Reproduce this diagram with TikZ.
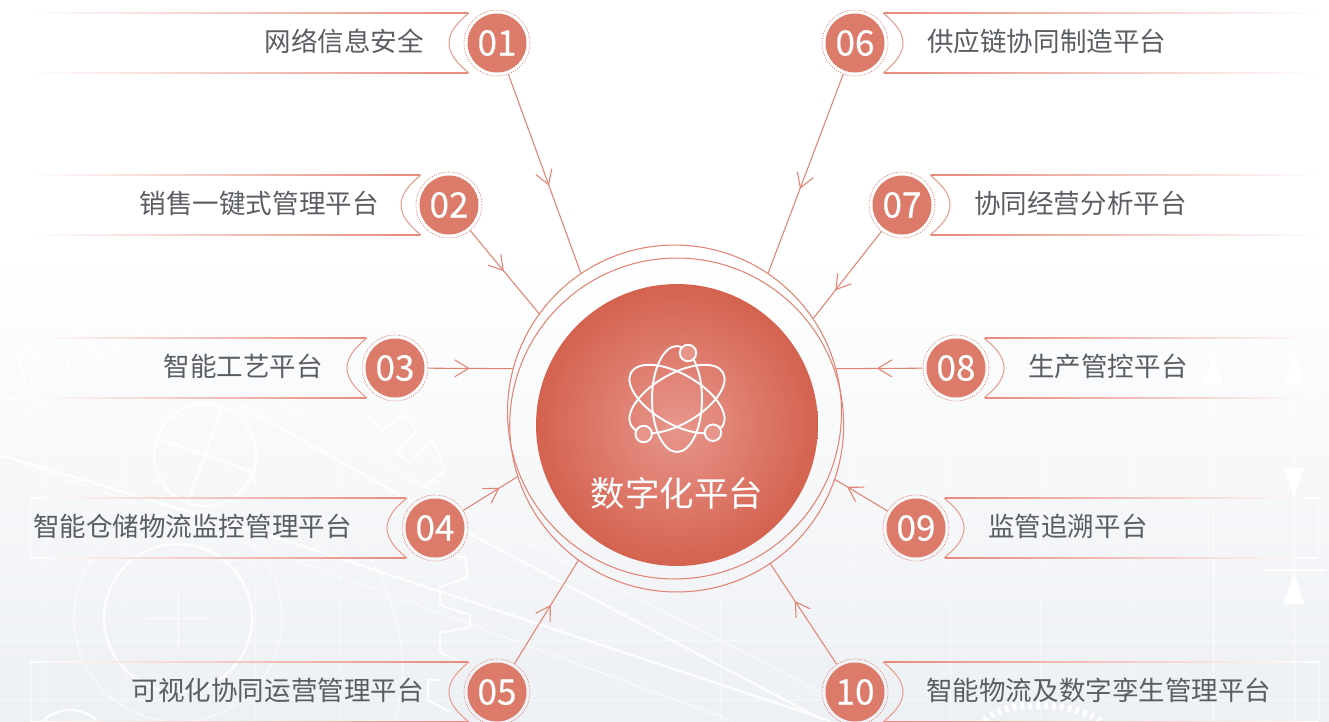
\documentclass[tikz,border=0pt]{standalone}
\usepackage{fontspec}
\setmainfont{Noto Sans CJK SC}
\newfontfamily\numfont[FakeBold=0.3]{Noto Sans CJK SC}
\usepackage{xcolor}
\usetikzlibrary{arrows.meta,decorations.markings}
\definecolor{numred}{HTML}{DD7B6B}
\definecolor{linered}{HTML}{E28374}
\definecolor{bandred}{HTML}{E68A7B}
\definecolor{hubmid}{HTML}{E8968C}
\definecolor{hubrim}{HTML}{D4624F}
\definecolor{labelgrey}{HTML}{5A5E62}
\definecolor{bgbottom}{HTML}{EDF0F4}

\begin{document}
\begin{tikzpicture}[
    x=0.02cm, y=-0.02cm,
    numring/.style={circle, draw=linered, line width=0.4pt, dash pattern=on 0.6pt off 0.8pt, minimum size=1.32cm, inner sep=0pt},
    numdisc/.style={circle, fill=numred, text=white, minimum size=1.18cm, inner sep=0pt, font=\numfont\fontsize{20pt}{24pt}\selectfont},
    labeltext/.style={text=labelgrey, inner sep=0pt, font=\fontsize{15.1pt}{18pt}\selectfont},
    ringline/.style={circle, draw=linered, line width=0.6pt, minimum size=6.68cm, inner sep=0pt},
    hubdisc/.style={circle, inner color=hubmid, outer color=hubrim, minimum size=5.64cm, inner sep=0pt},
    conn/.style={draw=linered, line width=0.6pt},
    midarrow/.style={postaction={decorate}, decoration={markings, mark=at position #1 with {\arrow{Straight Barb[length=0.28cm,width=0.34cm]}}}},
    notch/.style={draw=bandred!85!white, line width=0.6pt},
    atomline/.style={draw=white, line width=1.1pt},
    atomdot/.style={circle, draw=white, line width=1.1pt, fill=hubmid, minimum size=0.33cm, inner sep=0pt},
    bgthin/.style={draw=white, line width=0.5pt, opacity=0.8},
    bgthick/.style={draw=white, line width=1.3pt, opacity=0.9}
]
    \useasboundingbox (0,0) rectangle (1329,721);

    % Background
    \begin{scope}
        \clip (0,0) rectangle (1329,721);
        \fill[white] (0,0) rectangle (1329,250);
        \shade[top color=white, bottom color=bgbottom] (0,250) rectangle (1329,721);
        \foreach \gx in {45,125,255,340,720,850,950,1040,1130} \draw[bgthin, opacity=0.45] (\gx,430) -- (\gx,721);
        \foreach \gy in {480,560,640,700} \draw[bgthin, opacity=0.45] (0,\gy) -- (1329,\gy);
        % gear circles
        \draw[bgthick] (178,618) circle [radius=74];
        \draw[bgthin] (178,618) circle [radius=104];
        \draw[bgthin] (146,618) -- (210,618);
        \draw[bgthin] (178,586) -- (178,650);
        \draw[bgthick] (205,455) circle [radius=51];
        \draw[bgthick] (158,438) -- (252,472);
        \draw[bgthick] (222,408) -- (188,502);
        \draw[bgthick] (70,750) circle [radius=40];
        \draw[line width=4pt, white, dash pattern=on 2pt off 2.5pt] (985,721) .. controls (1000,700) and (1070,700) .. (1100,721);
        % gear teeth
        \draw[bgthick] (2,392) -- (13,400) -- (27,388) -- (18,358) -- (33,348) -- (50,375) -- (68,367) -- (62,338) -- (83,330) -- (97,357) -- (115,350) -- (113,322) -- (135,318) -- (142,343) -- (163,340) -- (168,317) -- (187,315) -- (190,338);
        \draw[bgthick] (365,415) -- (383,430) -- (403,415) -- (417,430) -- (397,453) -- (410,463) -- (433,440) -- (445,470) -- (423,488);
        \draw[bgthick] (457,557) -- (465,557) -- (468,577) -- (440,587) -- (440,605) -- (470,615) -- (470,627) -- (440,633) -- (440,652) -- (460,662);
        \draw[bgthick] (440,680) -- (428,680) -- (428,700) -- (450,712);
        % long diagonals
        \draw[bgthick] (0,455) -- (300,545) -- (767,700) -- (830,721);
        \draw[bgthick] (240,405) -- (457,527) -- (823,720);
        \draw[bgthin] (0,455) -- (300,562) -- (733,721);
        \draw[bgthin] (260,390) -- (460,507) -- (823,693) -- (880,721);
        \draw[bgthin] (0,430) .. controls (120,340) and (280,330) .. (360,430);
        \draw[bgthin] (330,500) .. controls (380,560) and (420,640) .. (395,721);
        % right hand marks
        \draw[bgthin] (1213,350) -- (1213,721);
        \draw[bgthin] (1294,350) -- (1294,721);
        \draw[bgthick] (1262,570) -- (1326,570);
        \fill[white] (1213,353) -- (1223,384) -- (1203,384) -- cycle;
        \fill[white] (1294,353) -- (1304,384) -- (1284,384) -- cycle;
        \fill[white] (1294,498) -- (1304,468) -- (1284,468) -- cycle;
        \fill[white] (1294,572) -- (1304,604) -- (1284,604) -- cycle;
    \end{scope}

    % Centre
    \node[ringline] (ringa) at (674.5,412) {};
    \node[ringline] (ringb) at (676.7,425) {};
    \node[hubdisc] (hub) at (677,425) {};
    \foreach \a in {0,60,-60} \draw[atomline, rotate around={\a:(677,399)}] (677,399) ellipse [x radius=25, y radius=53];
    \node[atomdot] (atoma) at (688,353) {};
    \node[atomdot] (atomb) at (643.7,434) {};
    \node[atomdot] (atomc) at (713,432.7) {};
    \node[text=white, inner sep=0pt, font=\fontsize{19.6pt}{24pt}\selectfont] (hubtitle) at (677,493) {数字化平台};

    % Left column
    \foreach \num/\x/\y/\tx/\txt in {01/497/43/424/网络信息安全, 02/449/205/379/销售一键式管理平台, 03/395/368/323/智能工艺平台, 04/435/528/352/智能仓储物流监控管理平台, 05/497/692/424/可视化协同运营管理平台} {
        \shade[left color=white, middle color=bandred!55!white, right color=bandred] (30,\y-30.7) rectangle (\x-29,\y-29.3);
        \shade[left color=white, middle color=bandred!55!white, right color=bandred] (30,\y+29.3) rectangle (\x-29,\y+30.7);
        \draw[bgthin] (30,\y-30) -- (30,\y+30);
        \draw[notch] (\x-28,\y-30) .. controls (\x-38,\y-22) and (\x-48,\y-12) .. (\x-48,\y) .. controls (\x-48,\y+12) and (\x-38,\y+22) .. (\x-28,\y+30);
        \node[numring] (n\num) at (\x,\y) {};
        \node[numdisc] (d\num) at (\x,\y) {\num};
        \node[labeltext, anchor=east] (l\num) at (\tx,\y-2) {\txt};
    }

    % Right column
    \foreach \num/\x/\y/\tx/\txt in {06/855/43/927/供应链协同制造平台, 07/902/205/974/协同经营分析平台, 08/956/368/1028/生产管控平台, 09/916/528/988/监管追溯平台, 10/855/692/926/智能物流及数字孪生管理平台} {
        \shade[right color=white, middle color=bandred!55!white, left color=bandred] (\x+29,\y-30.7) rectangle (1318,\y-29.3);
        \shade[right color=white, middle color=bandred!55!white, left color=bandred] (\x+29,\y+29.3) rectangle (1318,\y+30.7);
        \draw[bgthin] (1318,\y-30) -- (1318,\y+30);
        \draw[notch] (\x+28,\y-30) .. controls (\x+38,\y-22) and (\x+48,\y-12) .. (\x+48,\y) .. controls (\x+48,\y+12) and (\x+38,\y+22) .. (\x+28,\y+30);
        \node[numring] (n\num) at (\x,\y) {};
        \node[numdisc] (d\num) at (\x,\y) {\num};
        \node[labeltext, anchor=west] (l\num) at (\tx,\y-2) {\txt};
    }

    % Connectors
    \foreach \num/\rng/\ang/\pos in {01/ringa/124/0.56, 02/ringa/144.5/0.49, 03/ringa/165/0.49, 04/ringb/198/0.67, 05/ringb/234.8/0.57, 06/ringa/56.3/0.576, 07/ringa/34.8/0.68, 08/ringa/15/0.53, 09/ringb/341.6/0.77, 10/ringb/304.8/0.63}
        \draw[conn, midarrow=\pos] (n\num) -- (\rng.\ang);
\end{tikzpicture}
\end{document}
